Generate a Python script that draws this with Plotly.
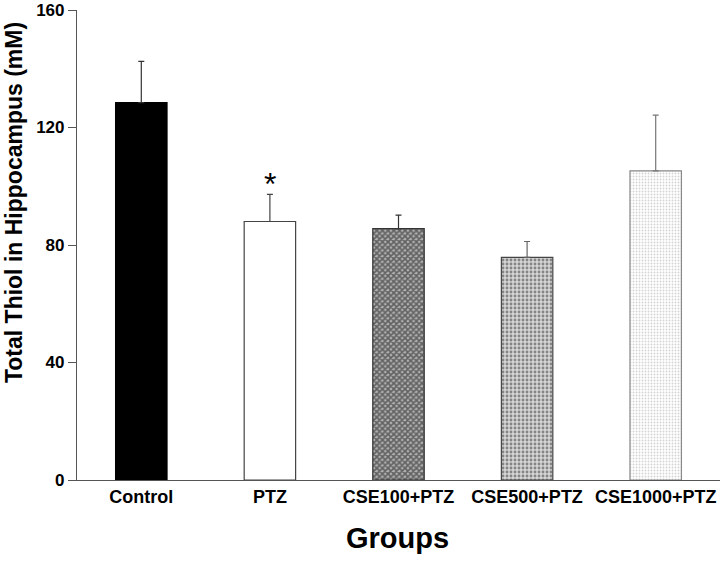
import plotly.graph_objects as go

groups = ["Control", "PTZ", "CSE100+PTZ", "CSE500+PTZ", "CSE1000+PTZ"]
means = [128.5, 88.0, 85.6, 75.8, 105.2]
errors = [14.0, 9.2, 4.6, 5.4, 19.0]
y_ticks = [0, 40, 80, 120, 160]

fills = ["black", "white", "#555555", "#aaaaaa", "#f0f0f0"]
patterns = [None,
            None,
            dict(shape="x", fgcolor="#111111", bgcolor="#b0b0b0", size=4, solidity=0.65),
            dict(shape=".", fgcolor="#333333", bgcolor="#d4d4d4", size=4, solidity=0.4),
            dict(shape=".", fgcolor="#a8a8a8", bgcolor="white", size=3, solidity=0.3)]
outlines = ["black", "#444444", "#333333", "#444444", "#888888"]
errcolors = ["#333333", "#444444", "#333333", "#666666", "#777777"]

fig = go.Figure()
for i, g in enumerate(groups):
    marker = dict(color=fills[i], line=dict(color=outlines[i], width=1.2))
    if patterns[i] is not None:
        marker["pattern"] = patterns[i]
    fig.add_trace(go.Bar(
        x=[g], y=[means[i]], width=0.4, marker=marker,
        error_y=dict(type="data", array=[errors[i]], symmetric=False, arrayminus=[0],
                     color=errcolors[i], thickness=1.2, width=3),
        showlegend=False, hoverinfo="skip",
    ))

fig.add_annotation(x=groups[1], y=means[1] + errors[1], text="*", showarrow=False,
                   yshift=10, font=dict(family="Liberation Sans", size=32, color="black"))

fig.add_annotation(xref="paper", yref="paper", x=-0.099, y=0.59, textangle=-90,
                   text="Total Thiol in Hippocampus (mM)", showarrow=False,
                   xanchor="center", yanchor="middle",
                   font=dict(family="Liberation Sans", size=23, color="black", weight="bold"))
fig.add_annotation(xref="paper", yref="paper", x=0.498, y=-0.124,
                   text="Groups", showarrow=False,
                   xanchor="center", yanchor="middle",
                   font=dict(family="Liberation Sans", size=29, color="black", weight="bold"))

fig.update_layout(
    width=724, height=563, barmode="overlay",
    margin=dict(l=77, r=4, t=10, b=83),
    plot_bgcolor="white", paper_bgcolor="white",
    font=dict(family="Liberation Sans", color="black"),
    xaxis=dict(showline=True, linecolor="#555555", linewidth=1.2, ticks="",
               range=[-0.5, 4.5], automargin=False,
               tickfont=dict(size=18, weight="bold")),
    yaxis=dict(showline=True, linecolor="#555555", linewidth=1.2, ticks="outside",
               ticklen=8, tickcolor="#555555", range=[0, 160], tickvals=y_ticks,
               showgrid=False, zeroline=False, automargin=False,
               ticklabeloverflow="allow",
               tickfont=dict(size=17, weight="bold")),
)

fig.write_html("out.html", config={"displayModeBar": False},
               post_script="document.body.style.margin='0';")
